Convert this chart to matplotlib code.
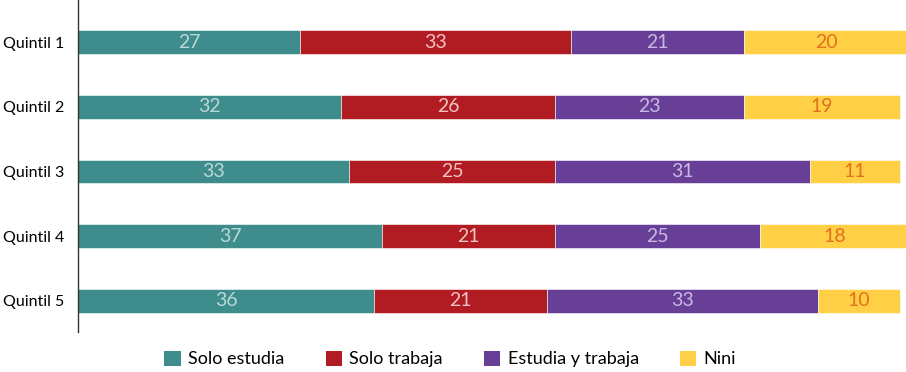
import numpy as np
import matplotlib.pyplot as plt
from matplotlib.patches import Patch

plt.rcParams['font.family'] = ['Lato', 'DejaVu Sans']

quintiles = ['Quintil 1', 'Quintil 2', 'Quintil 3', 'Quintil 4', 'Quintil 5']
categories = ['Solo estudia', 'Solo trabaja', 'Estudia y trabaja', 'Nini']
solo_estudia = [27, 32, 33, 37, 36]
solo_trabaja = [33, 26, 25, 21, 21]
estudia_trabaja = [21, 23, 31, 25, 33]
nini = [20, 19, 11, 18, 10]

series = [solo_estudia, solo_trabaja, estudia_trabaja, nini]
colors = ['#3f8c8c', '#b01c22', '#673f96', '#ffcf45']
text_colors = ['#b9d9d7', '#f0c2c2', '#c9b9e2', '#e2701e']

fig = plt.figure(figsize=(9.06, 3.72), dpi=100)
ax = fig.add_axes([78 / 906, 40 / 372, 828 / 906, 332 / 372])

y = np.arange(len(quintiles))
left = np.zeros(len(quintiles))
for vals, c, tc in zip(series, colors, text_colors):
    vals = np.array(vals)
    ax.barh(y, vals, left=left, height=0.37, color=c, edgecolor='white', linewidth=0.4)
    for yi, l, v in zip(y, left, vals):
        ax.text(l + v / 2, yi, str(v), ha='center', va='center',
                color=tc, fontsize=14)
    left = left + vals

ax.set_xlim(0, 100.7)
ax.set_ylim(4.48, -0.65)
ax.set_yticks(y)
ax.set_yticklabels(quintiles, fontsize=11.5)
ax.set_xticks([])
ax.tick_params(axis='y', length=0, pad=10)
for s in ['top', 'right', 'bottom']:
    ax.spines[s].set_visible(False)
ax.spines['left'].set_color('#333333')
ax.spines['left'].set_linewidth(1)

handles = [Patch(facecolor=c, label=l) for c, l in zip(colors, categories)]
fig.legend(handles=handles, loc='center', bbox_to_anchor=(0.497, 0.035), ncol=4,
           frameon=False, fontsize=13, handlelength=0.9, handleheight=0.9,
           handletextpad=0.4, columnspacing=2.3)

fig.savefig('out.png', dpi=100)
